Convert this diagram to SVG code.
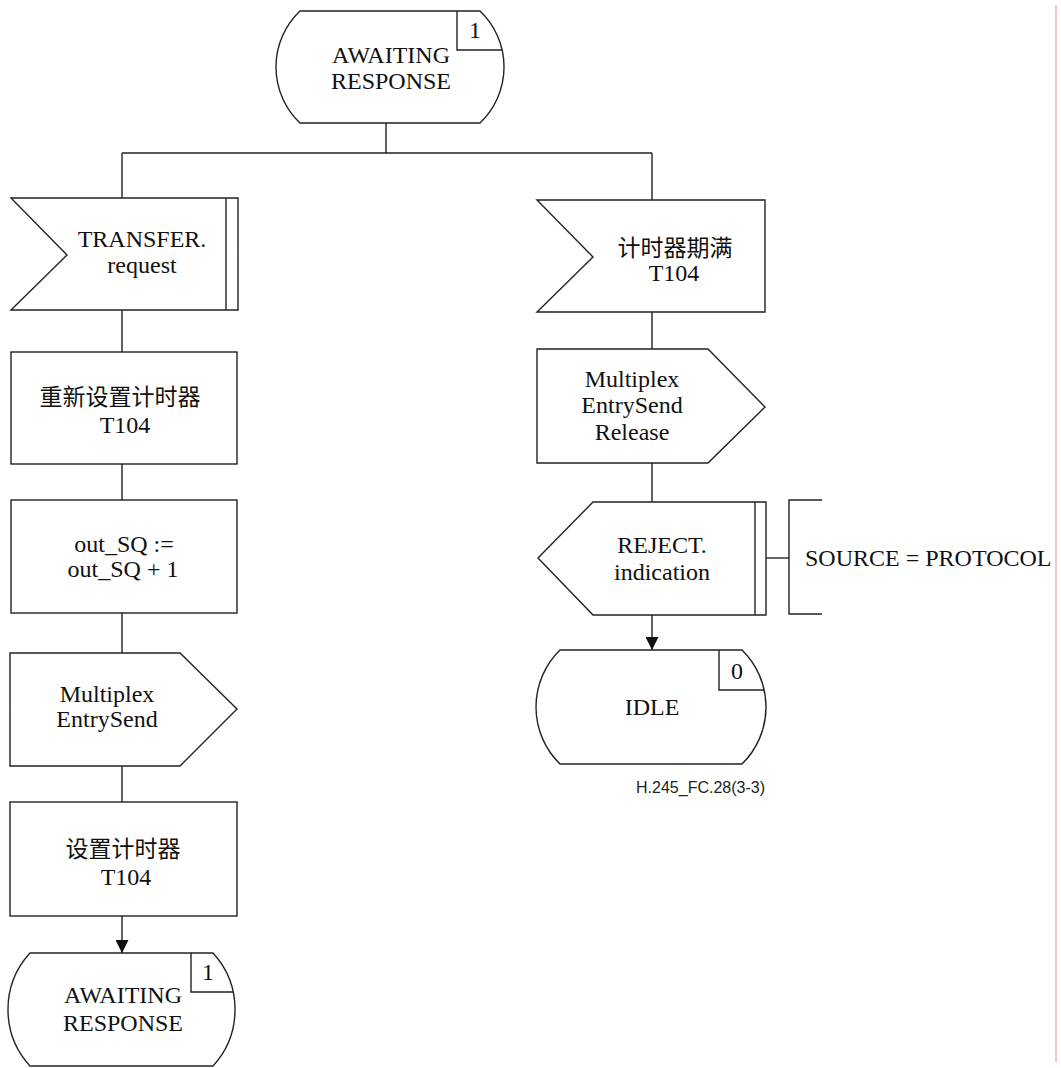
<svg xmlns="http://www.w3.org/2000/svg" width="1061" height="1068" viewBox="0 0 1061 1068">
<defs>
<style>
.s{fill:#fff;stroke:#222;stroke-width:1.4}
.l{fill:none;stroke:#222;stroke-width:1.4}
.t{font-family:"Liberation Serif","Noto Sans CJK SC",serif;font-size:24px;fill:#111;text-anchor:middle}
.c{font-family:"Liberation Serif","Noto Sans CJK SC",serif;font-size:23px;fill:#111;text-anchor:middle}
.lab{font-family:"Liberation Sans",Arial,sans-serif;font-size:16px;fill:#222;text-anchor:end}
</style>
<marker id="ah" viewBox="0 0 13 13" refX="13" refY="6.5" markerWidth="13" markerHeight="13" markerUnits="userSpaceOnUse" orient="auto">
<path d="M0,0 L13,6.5 L0,13 Z" fill="#111"/>
</marker>
</defs>
<rect width="1061" height="1068" fill="#fff"/>
<line x1="1056" y1="5" x2="1056" y2="1062" stroke="#f2b3b5" stroke-width="1.5"/>

<g id="connectors">
<path class="l" d="M386,123 V153 M122,153 H652 M122,153 V198 M652,153 V200"/>
<path class="l" d="M122,310 V352 M122,464 V500 M122,613 V653 M122,766 V802"/>
<path class="l" d="M122,916 V953" marker-end="url(#ah)"/>
<path class="l" d="M652,312 V349 M652,463 V502"/>
<path class="l" d="M652,615 V650" marker-end="url(#ah)"/>
<path class="l" d="M766,558 H789"/>
</g>

<g id="state-awaiting-top">
<path class="s" d="M300,11 H480 A77.3,77.3 0 0 1 480,123 H300 A77.3,77.3 0 0 1 300,11 Z"/>
<path class="l" d="M457,11 V50 H502"/>
<text class="t" x="475" y="38">1</text>
<text class="t" x="391" y="63">AWAITING</text>
<text class="t" x="391" y="89">RESPONSE</text>
</g>

<g id="input-transfer-request">
<path class="s" d="M11,198 H238 V310 H11 L67,255 Z"/>
<line class="l" x1="226" y1="198" x2="226" y2="310"/>
<text class="t" x="142" y="247">TRANSFER.</text>
<text class="t" x="142" y="273">request</text>
</g>

<g id="task-restart-timer">
<rect class="s" x="11" y="352" width="226" height="112"/>
<text class="c" x="120" y="405">重新设置计时器</text>
<text class="t" x="125" y="433">T104</text>
</g>

<g id="task-out-sq">
<rect class="s" x="11" y="500" width="226" height="113"/>
<text class="t" x="124" y="552">out_SQ :=</text>
<text class="t" x="123" y="577">out_SQ + 1</text>
</g>

<g id="output-multiplex-entrysend">
<path class="s" d="M10,653 H180 L237,709 L180,766 H10 Z"/>
<text class="t" x="107" y="702">Multiplex</text>
<text class="t" x="107" y="727">EntrySend</text>
</g>

<g id="task-set-timer">
<rect class="s" x="10" y="802" width="227" height="114"/>
<text class="c" x="123" y="857">设置计时器</text>
<text class="t" x="126" y="885">T104</text>
</g>

<g id="state-awaiting-bottom">
<path class="s" d="M30,953 H213 A83.5,83.5 0 0 1 213,1066 H30 A83.5,83.5 0 0 1 30,953 Z"/>
<path class="l" d="M191,953 V992 H233"/>
<text class="t" x="208" y="980">1</text>
<text class="t" x="123" y="1003">AWAITING</text>
<text class="t" x="123" y="1031">RESPONSE</text>
</g>

<g id="input-timer-expiry">
<path class="s" d="M537,200 H765 V312 H537 L593,257 Z"/>
<text class="c" x="675" y="256">计时器期满</text>
<text class="t" x="674" y="281">T104</text>
</g>

<g id="output-multiplex-release">
<path class="s" d="M537,349 H708 L765,407 L708,463 H537 Z"/>
<text class="t" x="632" y="387">Multiplex</text>
<text class="t" x="632" y="413">EntrySend</text>
<text class="t" x="632" y="440">Release</text>
</g>

<g id="output-reject-indication">
<path class="s" d="M593,502 H766 V615 H593 L538,558 Z"/>
<line class="l" x1="755" y1="502" x2="755" y2="615"/>
<text class="t" x="662" y="553">REJECT.</text>
<text class="t" x="662" y="580">indication</text>
</g>

<g id="comment-source">
<path class="l" d="M822,500 H789 V614 H822"/>
<text class="t" x="805" y="566" style="text-anchor:start">SOURCE = PROTOCOL</text>
</g>

<g id="state-idle">
<path class="s" d="M560,650 H742 A79.7,79.7 0 0 1 742,764 H560 A79.7,79.7 0 0 1 560,650 Z"/>
<path class="l" d="M719,650 V690 H764"/>
<text class="t" x="737" y="679">0</text>
<text class="t" x="652" y="715">IDLE</text>
</g>

<text class="lab" x="765" y="793">H.245_FC.28(3-3)</text>
</svg>
